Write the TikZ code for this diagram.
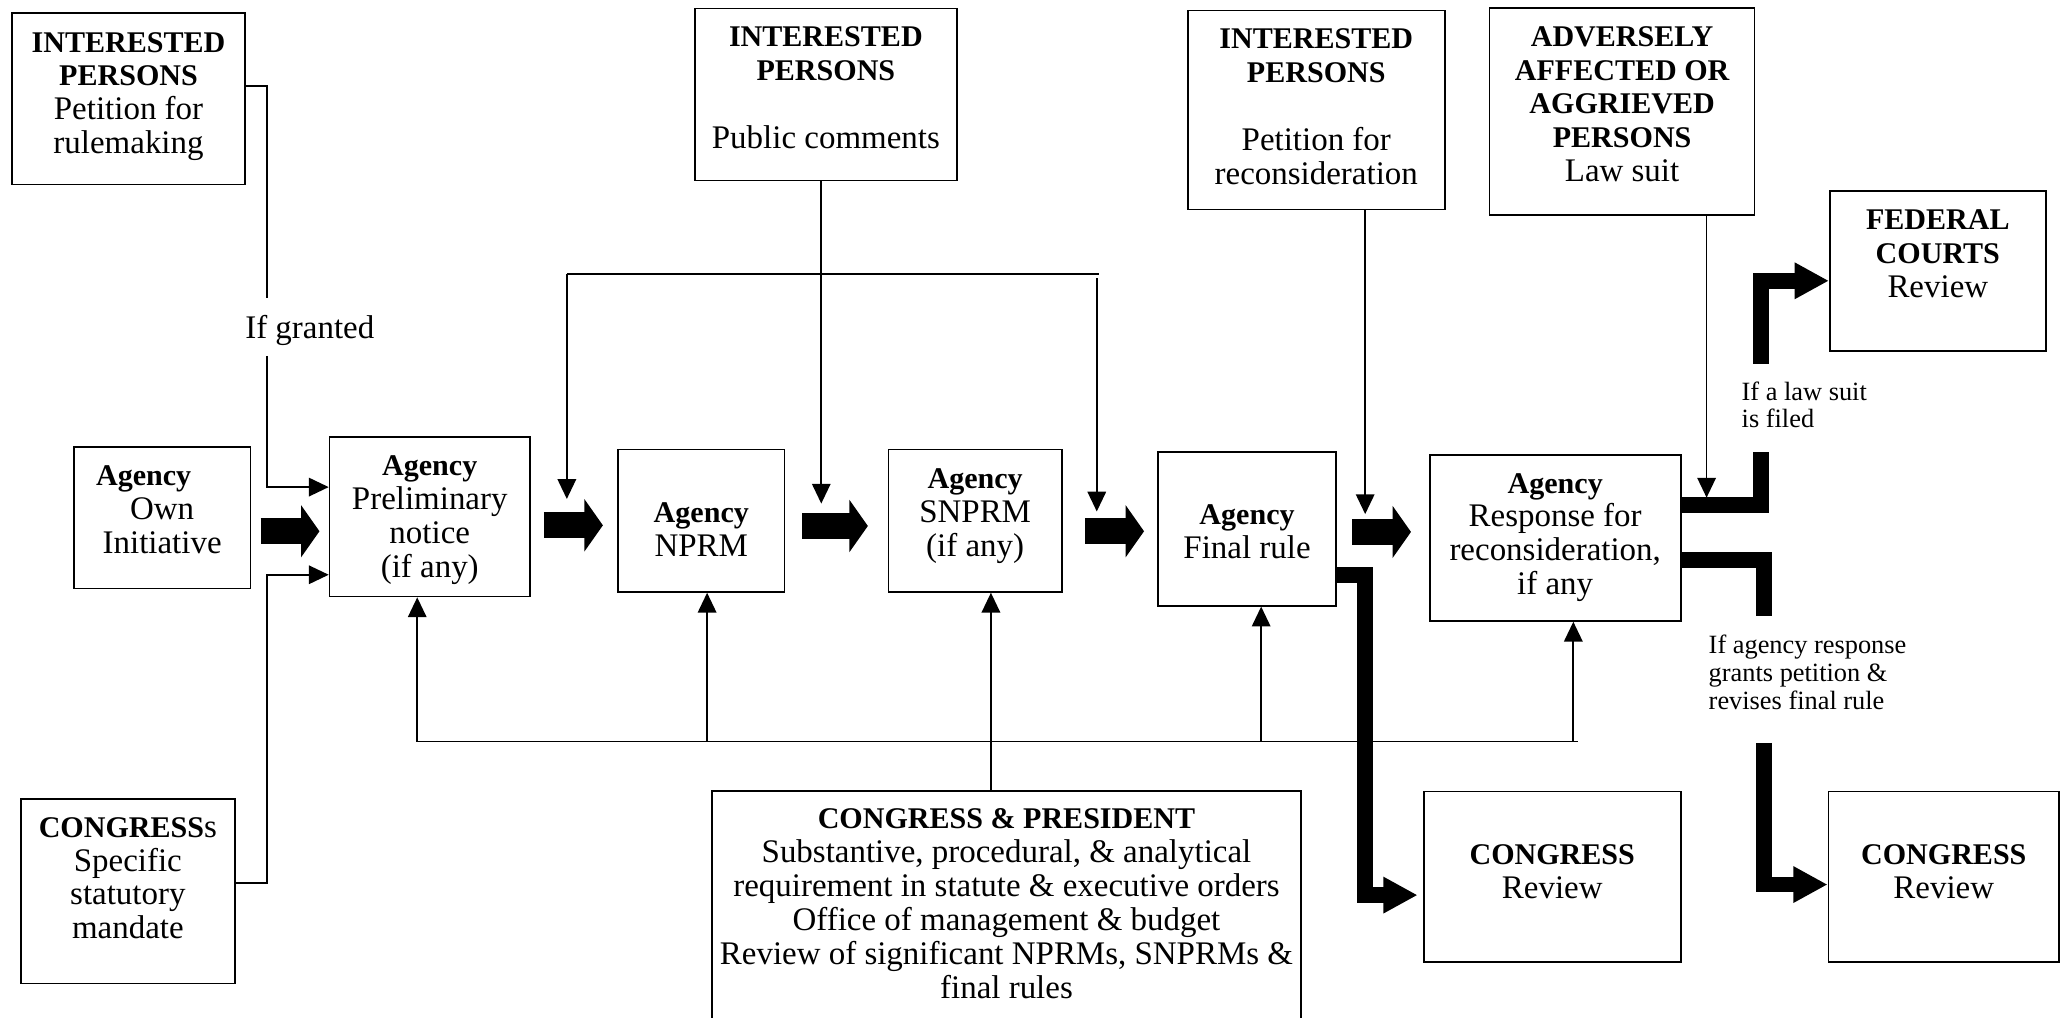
\documentclass[tikz,border=0pt]{standalone}
\usepackage{fontspec}
\setmainfont{Liberation Serif}
\usetikzlibrary{arrows.meta,calc}

% bold heading words inside the boxes
\newcommand\hd[1]{{\fontsize{22.8}{25.7}\selectfont\bfseries #1}}

\tikzset{
  box/.style={draw, line width=1.3pt, inner sep=0pt},
  txt/.style={align=center, inner sep=0pt, font=\fontsize{25}{25.7}\selectfont},
  note/.style={align=left, inner sep=0pt, anchor=west, font=\fontsize{20}{21}\selectfont},
  thin/.style={line width=1.3pt},
  thinarrow/.style={thin, -{Triangle[length=15pt,width=14pt]}},
  block/.style={line width=19.5pt, -{Triangle[length=14pt,width=39pt]}},
  fat/.style={line width=12pt},
  fatarrow/.style={fat, -{Triangle[length=26pt,width=26pt]}},
}

\begin{document}
\begin{tikzpicture}[x=1pt,y=-1pt]
\useasboundingbox (0,0) rectangle (1568,772);
\clip (0,0) rectangle (1568,772);
\fill[white] (0,0) rectangle (1568,772);

% ---------- boxes ----------
\node[box, minimum width=177pt, minimum height=130pt]   (ip1)   at (97.5,75) {};
\node[box, minimum width=134pt, minimum height=107.5pt] (own)   at (123,392.75) {};
\node[box, minimum width=152pt, minimum height=121pt]   (pre)   at (326,392) {};
\node[box, minimum width=126pt, minimum height=108pt]   (nprm)  at (532,395) {};
\node[box, minimum width=131.5pt, minimum height=108pt] (snprm) at (739.75,395) {};
\node[box, minimum width=135pt, minimum height=116.5pt] (fin)   at (946,401.25) {};
\node[box, minimum width=190.5pt, minimum height=126pt] (resp)  at (1179.75,408) {};
\node[box, minimum width=199pt, minimum height=130.5pt] (ip2)   at (626.5,71.75) {};
\node[box, minimum width=195pt, minimum height=151pt]   (ip3)   at (998.5,83.5) {};
\node[box, minimum width=201pt, minimum height=157pt]   (adv)   at (1230.5,84.5) {};
\node[box, minimum width=164pt, minimum height=121.5pt] (fc)    at (1470,205.75) {};
\node[box, minimum width=162pt, minimum height=140pt]   (cong)  at (97,676) {};
\node[box, minimum width=447pt, minimum height=200pt]   (cp)    at (763.5,700) {};
\node[box, minimum width=195pt, minimum height=129.5pt] (cr1)   at (1177.5,665.25) {};
\node[box, minimum width=175pt, minimum height=129.5pt] (cr2)   at (1474.5,665.25) {};

% ---------- box texts ----------
\node[txt] (ip1txt) at (97.5,73.2) {\hd{INTERESTED}\\\hd{PERSONS}\\Petition for\\rulemaking};
\node[txt] (owntxt) at (123,386.5) {\hd{Agency}\rule{28pt}{0pt}\\Own\\Initiative};
\node[txt] (pretxt) at (326,394.4) {\hd{Agency}\\Preliminary\\notice\\(if any)};
\node[txt] (nprmtxt) at (532,401.8) {\hd{Agency}\\NPRM};
\node[txt] (snprmtxt) at (739.75,391.6) {\hd{Agency}\\SNPRM\\(if any)};
\node[txt] (fintxt) at (946,403.2) {\hd{Agency}\\Final rule};
\node[txt] (resptxt) at (1179.75,407.7) {\hd{Agency}\\Response for\\reconsideration,\\if any};
\node[txt] (ip2txt) at (626.5,66.3) {\hd{INTERESTED}\\\hd{PERSONS}\\[25.7pt]Public comments};
\node[txt] (ip3txt) at (998.5,81) {\hd{INTERESTED}\\\hd{PERSONS}\\[25.7pt]Petition for\\reconsideration};
\node[txt] (advtxt) at (1230.5,79) {\hd{ADVERSELY}\\\hd{AFFECTED OR}\\\hd{AGGRIEVED}\\\hd{PERSONS}\\Law suit};
\node[txt] (fctxt) at (1470,192.7) {\hd{FEDERAL}\\\hd{COURTS}\\Review};
\node[txt] (congtxt) at (97,666.2) {\hd{CONGRESS}s\\Specific\\statutory\\mandate};
\node[txt] (cptxt) at (763.5,685.6) {\hd{CONGRESS \& PRESIDENT}\\Substantive, procedural, \& analytical\\requirement in statute \& executive orders\\Office of management \& budget\\Review of significant NPRMs, SNPRMs \&\\final rules};
\node[txt] (cr1txt) at (1177.5,661) {\hd{CONGRESS}\\Review};
\node[txt] (cr2txt) at (1474.5,661) {\hd{CONGRESS}\\Review};

% ---------- free labels ----------
\node[txt] (granted) at (235,250.5) {If granted};
\node[note] (lawsuit) at (1321,307) {If a law suit\\is filed};
\node[note] (grants) at (1296,510) {If agency response\\grants petition \&\\revises final rule};

% ---------- main flow (block arrows) ----------
\draw[block] ($(own.east|-0,403)+(7,0)$)    -- ($(pre.west|-0,403)+(-7,0)$);
\draw[block] ($(pre.east|-0,398.5)+(10,0)$) -- ($(nprm.west|-0,398.5)+(-11,0)$);
\draw[block] ($(nprm.east|-0,399)+(13,0)$)  -- ($(snprm.west|-0,399)+(-15,0)$);
\draw[block] ($(snprm.east|-0,403)+(17,0)$) -- ($(fin.west|-0,403)+(-10,0)$);
\draw[block] ($(fin.east|-0,403.5)+(11.5,0)$) -- ($(resp.west|-0,403.5)+(-13.5,0)$);

% ---------- petitions and mandate into the preliminary notice ----------
\coordinate (g1a) at (202.5,226);
\coordinate (g1b) at (202.5,270);
\draw[thin] (ip1.east|-0,65) -| (g1a);
\draw[thinarrow] (g1b) |- (pre.west|-0,369.5);
\draw[thinarrow] (cong.east|-0,669.6) -| (202.5,436) -- (pre.west|-0,436);

% ---------- public comments bracket ----------
\coordinate (brl) at (430,208);
\coordinate (brr) at (834,208);
\draw[thin] (brl) -- (brr);
\draw[thinarrow] (brl) -- (430,378.5);
\draw[thinarrow] (832,211) -- (832,388);
\draw[thinarrow] (623,0|-ip2.south) -- (623,382);

% ---------- reconsideration and law suit ----------
\draw[thinarrow] (1035.6,0|-ip3.south) -- (1035.6,390);
\draw[thinarrow] (1294.6,0|-adv.south) -- (1294.6,377.5);

% ---------- congress & president requirements ----------
\coordinate (bl) at (316.5,562.5);
\coordinate (br) at (1197,562.5);
\draw[thin] (bl) -- (br);
\draw[thinarrow] (bl) -- (316.5,0|-pre.south);
\draw[thinarrow] (536.4,562.5) -- (536.4,0|-nprm.south);
\draw[thinarrow] (956.7,562.5) -- (956.7,0|-fin.south);
\draw[thinarrow] (1193.5,562.5) -- (1193.5,0|-resp.south);
\draw[thinarrow] (751.7,0|-cp.north) -- (751.7,0|-snprm.south);

% ---------- review paths ----------
\draw[fatarrow, shorten >=4pt] (fin.east|-0,436) -| (1035.6,679) -- (cr1.west|-0,679);

\coordinate (g2a) at (1336,343);
\coordinate (g2b) at (1336,276);
\draw[fat] (resp.east|-0,383) -| (g2a);
\draw[fatarrow] (g2b) |- (fc.west|-0,213);

\coordinate (g3a) at (1338,467.6);
\coordinate (g3b) at (1338,563.6);
\draw[fat] (resp.east|-0,424.5) -| (g3a);
\draw[fatarrow] (g3b) |- (cr2.west|-0,671);

\end{tikzpicture}
\end{document}
